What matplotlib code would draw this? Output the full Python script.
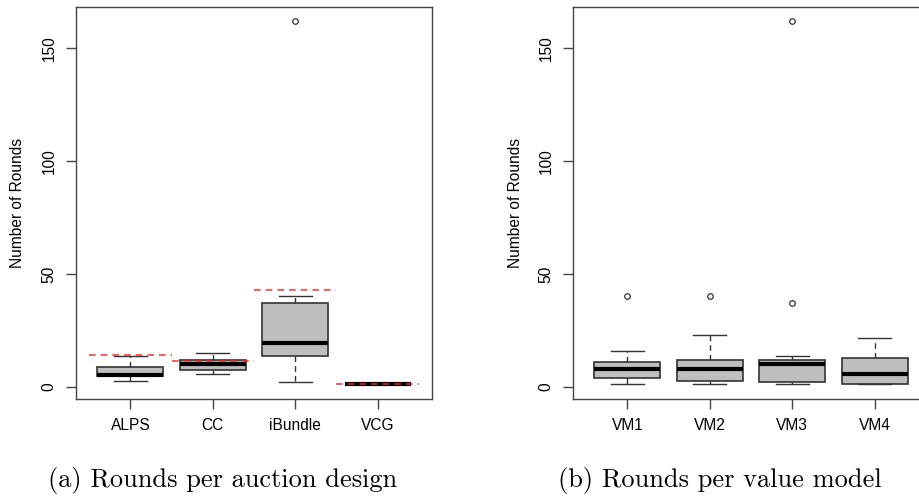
import matplotlib
matplotlib.use('Agg')
import matplotlib.pyplot as plt

# ---- data ----
designs = ['ALPS', 'CC', 'iBundle', 'VCG']
d_whislo = [2.6, 5.6, 1.9, 1.0]
d_q1 = [4.8, 7.6, 13.6, 1.0]
d_med = [5.4, 9.9, 19.6, 1.0]
d_q3 = [8.8, 11.8, 37.0, 1.0]
d_whishi = [13.6, 15.0, 40.1, 1.0]
d_fliers = [[], [], [162], []]
d_ref = [14.1, 11.2, 42.9, 1.0]

models = ['VM1', 'VM2', 'VM3', 'VM4']
m_whislo = [1.0, 1.0, 1.0, 1.0]
m_q1 = [3.9, 2.7, 1.9, 1.0]
m_med = [7.8, 7.8, 9.9, 5.7]
m_q3 = [10.8, 11.9, 11.9, 12.8]
m_whishi = [15.8, 23.0, 13.7, 21.7]
m_fliers = [[40.2], [40.2], [37.1, 162], []]

yticks = [0, 50, 100, 150]
ylabel = 'Number of Rounds'
captions = ['(a) Rounds per auction design', '(b) Rounds per value model']

W, H = 920, 497
fig = plt.figure(figsize=(W / 100, H / 100), dpi=100)

SANS = ['Liberation Sans', 'DejaVu Sans']
FRAME = '#444444'
FS = 11.2


def make_stats(labels, lo, q1, med, q3, hi, fl):
    return [dict(label=l, whislo=a, q1=b, med=c, q3=d, whishi=e, fliers=f)
            for l, a, b, c, d, e, f in zip(labels, lo, q1, med, q3, hi, fl)]


def draw(ax, stats):
    pos = list(range(1, len(stats) + 1))
    ax.bxp(stats, positions=pos, widths=0.8, patch_artist=True,
           boxprops=dict(facecolor='#bebebe', edgecolor='#333333', linewidth=1.2),
           medianprops=dict(color='black', linewidth=3.0, solid_capstyle='butt'),
           whiskerprops=dict(color='#333333', linewidth=1.0, linestyle=(0, (4, 3))),
           capprops=dict(color='#333333', linewidth=1.0),
           capwidths=0.4,
           flierprops=dict(marker='o', markersize=4, markerfacecolor='none',
                           markeredgecolor='#333333', markeredgewidth=0.9))
    ax.set_xlim(0.34, len(stats) + 0.66)
    ax.set_ylim(-5.44, 168.4)
    ax.set_yticks(yticks)
    ax.set_yticklabels([str(t) for t in yticks], rotation=90, va='center',
                       family=SANS, fontsize=FS)
    ax.set_xticks(pos)
    ax.set_xticklabels([s['label'] for s in stats], family=SANS, fontsize=FS)
    ax.tick_params(axis='both', direction='out', length=7, width=1.0,
                   color=FRAME, pad=7)
    for sp in ax.spines.values():
        sp.set_color(FRAME)
        sp.set_linewidth(1.0)
    return pos


# left panel
axL = fig.add_axes([76 / W, (H - 399) / H, 356 / W, 392 / H])
posL = draw(axL, make_stats(designs, d_whislo, d_q1, d_med, d_q3, d_whishi, d_fliers))
for p, r in zip(posL, d_ref):
    axL.hlines(r, p - 0.5, p + 0.5, colors='#ff2020', linestyles=(0, (4, 3)),
               linewidth=1.2, alpha=0.85, zorder=5)

# right panel (cut off at the right edge of the figure)
axR = fig.add_axes([573 / W, (H - 399) / H, 356 / W, 392 / H])
draw(axR, make_stats(models, m_whislo, m_q1, m_med, m_q3, m_whishi, m_fliers))

for x in (18, 516):
    fig.text(x / W, 1 - 203 / H, ylabel, rotation=90, ha='center', va='center',
             family=SANS, fontsize=FS)

fig.text(223 / W, 1 - 480 / H, captions[0], ha='center', va='center',
         family=['cmr10', 'DejaVu Serif'], fontsize=19)
fig.text(720 / W, 1 - 480 / H, captions[1], ha='center', va='center',
         family=['cmr10', 'DejaVu Serif'], fontsize=19)

fig.savefig('out.png', dpi=100)
